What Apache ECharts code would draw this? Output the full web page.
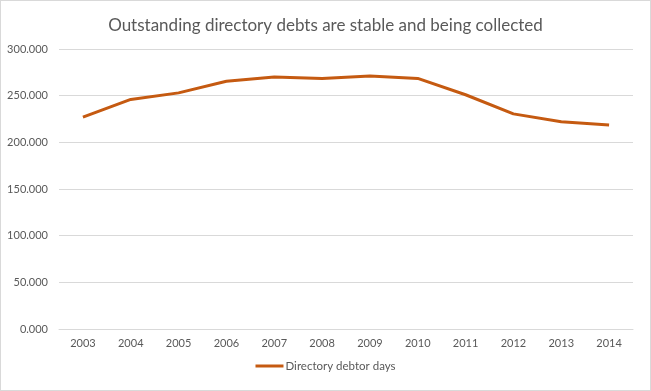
<!DOCTYPE html>
<html><head><meta charset="utf-8">
<script src="https://cdn.jsdelivr.net/npm/echarts@6/dist/echarts.min.js"></script>
<style>html,body{margin:0;padding:0;background:#fff}#c{width:649px;height:389px;border:1px solid #d9d9d9}</style>
</head><body><div id="c"></div>
<script>
const title = 'Outstanding directory debts are stable and being collected';
const seriesName = 'Directory debtor days';
const years = ['2003','2004','2005','2006','2007','2008','2009','2010','2011','2012','2013','2014'];
const debtorDays = [227, 246, 253, 265.5, 270, 268.5, 271, 268.5, 251, 230.5, 222, 218.5];
const yMin = 0, yMax = 300, yStep = 50;
const chart = echarts.init(document.getElementById('c'));
const font = 'Lato, "DejaVu Sans Condensed", sans-serif';
chart.setOption({
  animation: false,
  title: {text: title, left: 'center', top: 11, textStyle: {fontFamily: font, fontSize: 17, fontWeight: 'normal', color: '#595959'}},
  grid: {left: 58, right: 17, top: 48, bottom: 61, outerBoundsMode: 'none'},
  legend: {bottom: 13, left: 'center', itemWidth: 28, itemHeight: 3, itemGap: 4, icon: 'rect', textStyle: {fontFamily: font, fontSize: 11.5, color: '#595959', padding: [0,0,0,-3]}, data: [seriesName]},
  xAxis: {type: 'category', data: years, boundaryGap: true,
    axisLine: {lineStyle: {color: '#d9d9d9'}}, axisTick: {show: false},
    axisLabel: {fontFamily: font, fontSize: 11, color: '#595959', margin: 9}},
  yAxis: {type: 'value', min: yMin, max: yMax, interval: yStep,
    axisLine: {show: false}, axisTick: {show: false},
    splitLine: {lineStyle: {color: '#d9d9d9'}},
    axisLabel: {fontFamily: font, fontSize: 11, color: '#595959', margin: 11, formatter: v => v.toFixed(3)}},
  series: [{name: seriesName, type: 'line', data: debtorDays, symbol: 'none', lineStyle: {color: '#C55A11', width: 3}, itemStyle: {color: '#C55A11'}}]
});
</script></body></html>
